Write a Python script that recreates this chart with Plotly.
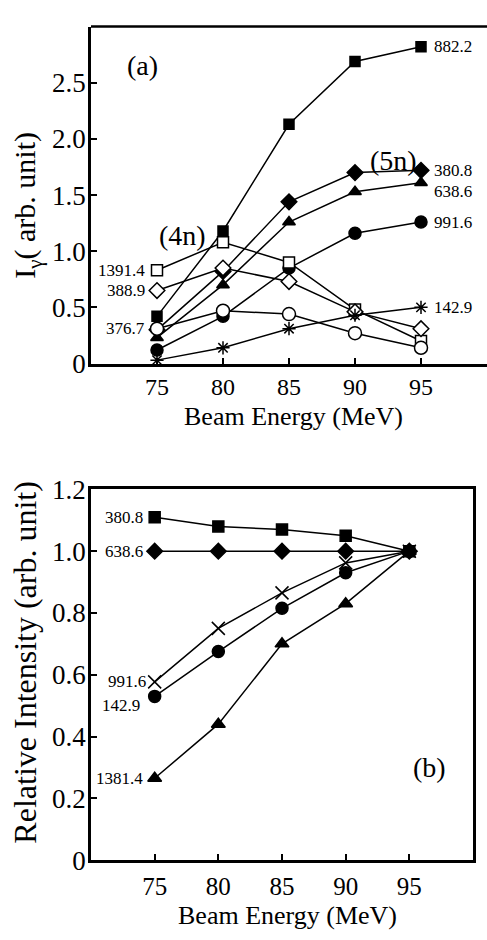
import plotly.graph_objects as go

W, H = 487, 940
FONT = "Liberation Serif, Times New Roman, serif"

energy = [75, 80, 85, 90, 95]

# Panel (a): gamma intensities (arb. unit)
a_names = ["882.2", "380.8", "638.6", "991.6", "1391.4", "388.9", "376.7", "142.9"]
a_882_2 = [0.42, 1.18, 2.13, 2.69, 2.82]
a_380_8 = [0.30, 0.82, 1.44, 1.70, 1.72]
a_638_6 = [0.23, 0.70, 1.26, 1.53, 1.61]
a_991_6 = [0.12, 0.42, 0.85, 1.16, 1.26]
a_1391_4 = [0.83, 1.08, 0.90, 0.48, 0.20]
a_388_9 = [0.65, 0.85, 0.73, 0.46, 0.31]
a_376_7 = [0.31, 0.47, 0.44, 0.27, 0.14]
a_142_9 = [0.03, 0.14, 0.31, 0.43, 0.50]
a_series = [a_882_2, a_380_8, a_638_6, a_991_6, a_1391_4, a_388_9, a_376_7, a_142_9]

# Panel (b): relative intensities
b_names = ["380.8", "638.6", "991.6", "142.9", "1381.4"]
b_380_8 = [1.11, 1.08, 1.07, 1.05, 1.00]
b_638_6 = [1.00, 1.00, 1.00, 1.00, 1.00]
b_991_6 = [0.577, 0.75, 0.865, 0.962, 1.00]
b_142_9 = [0.53, 0.675, 0.815, 0.93, 1.00]
b_1381_4 = [0.265, 0.44, 0.70, 0.83, 1.00]
b_series = [b_380_8, b_638_6, b_991_6, b_142_9, b_1381_4]

a_ticks = [0, 0.5, 1.0, 1.5, 2.0, 2.5]
a_ticktext = ["0", "0.5", "1.0", "1.5", "2.0", "2.5"]
b_ticks = [0, 0.2, 0.4, 0.6, 0.8, 1.0, 1.2]
b_ticktext = ["0", "0.2", "0.4", "0.6", "0.8", "1.0", "1.2"]
x_ticks = [75, 80, 85, 90, 95]

# styles
a_styles = [
    dict(symbol="square", size=10, color="black"),
    dict(symbol="diamond", size=12, color="black"),
    dict(symbol="triangle-up", size=11, color="black"),
    dict(symbol="circle", size=12, color="black"),
    dict(symbol="square", size=11, color="white"),
    dict(symbol="diamond", size=12, color="white"),
    dict(symbol="circle", size=13, color="white"),
    dict(symbol="asterisk-open", size=11, color="black"),
]
b_styles = [
    dict(symbol="square", size=11, color="black"),
    dict(symbol="diamond", size=12, color="black"),
    dict(symbol="x-thin-open", size=13, color="black"),
    dict(symbol="circle", size=12, color="black"),
    dict(symbol="triangle-up", size=12, color="black"),
]

fig = go.Figure()

for name, ys, st in zip(a_names, a_series, a_styles):
    fig.add_trace(go.Scatter(
        x=energy, y=ys, mode="lines+markers", name=name,
        line=dict(color="black", width=1.5),
        marker=dict(symbol=st["symbol"], size=st["size"], color=st["color"],
                    line=dict(color="black", width=1.5)),
        xaxis="x", yaxis="y", showlegend=False, cliponaxis=False))

for name, ys, st in zip(b_names, b_series, b_styles):
    fig.add_trace(go.Scatter(
        x=energy, y=ys, mode="lines+markers", name=name,
        line=dict(color="black", width=1.5),
        marker=dict(symbol=st["symbol"], size=st["size"], color=st["color"],
                    line=dict(color="black", width=1.5)),
        xaxis="x2", yaxis="y2", showlegend=False, cliponaxis=False))

anns = []
lab_font = dict(family=FONT, size=17, color="black")
# panel (a) right-side labels
right_a = [(0, 0), (1, 0), (2, -9), (3, 0), (7, 0)]
for i, ys in right_a:
    anns.append(dict(x=energy[-1], y=a_series[i][-1], xref="x", yref="y",
                     text=a_names[i], showarrow=False, xanchor="left", yanchor="middle",
                     xshift=11, yshift=ys, font=lab_font))
left_a = [(4, 0), (5, 0), (6, 0)]
for i, ys in left_a:
    anns.append(dict(x=energy[0], y=a_series[i][0], xref="x", yref="y",
                     text=a_names[i], showarrow=False, xanchor="right", yanchor="middle",
                     xshift=-10, yshift=ys, font=lab_font))
left_b = [(0, -10, 0), (1, -10, 0), (2, -7, 0), (3, -13, -9), (4, -10, 0)]
for i, xs, ys in left_b:
    anns.append(dict(x=energy[0], y=b_series[i][0], xref="x2", yref="y2",
                     text=b_names[i], showarrow=False, xanchor="right", yanchor="middle",
                     xshift=xs, yshift=ys, font=lab_font))

big = dict(family=FONT, size=28, color="black")
anns += [
    dict(x=73.9, y=2.655, xref="x", yref="y", text="(a)", showarrow=False, font=big,
         xanchor="center", yanchor="middle"),
    dict(x=92.9, y=1.81, xref="x", yref="y", text="(5n)", showarrow=False, font=big,
         xanchor="center", yanchor="middle"),
    dict(x=76.9, y=1.14, xref="x", yref="y", text="(4n)", showarrow=False, font=big,
         xanchor="center", yanchor="middle"),
    dict(x=96.6, y=0.30, xref="x2", yref="y2", text="(b)", showarrow=False, font=big,
         xanchor="center", yanchor="middle"),
]

# axis titles
anns += [
    dict(x=293 / W, y=1 - 415 / H, xref="paper", yref="paper", text="Beam Energy (MeV)",
         showarrow=False, xanchor="center", yanchor="middle",
         font=dict(family=FONT, size=26, color="black")),
    dict(x=287 / W, y=1 - 930 / H, xref="paper", yref="paper", text="Beam Energy (MeV)",
         showarrow=False, xanchor="center", yanchor="middle",
         font=dict(family=FONT, size=26, color="black")),
    dict(x=27 / W, y=1 - 197 / H, xref="paper", yref="paper", text="I<sub>γ</sub>( arb. unit)",
         textangle=-90, showarrow=False, xanchor="center", yanchor="middle",
         font=dict(family=FONT, size=30, color="black")),
    dict(x=25 / W, y=1 - 669 / H, xref="paper", yref="paper", text="Relative Intensity (arb. unit)",
         textangle=-90, showarrow=False, xanchor="center", yanchor="middle",
         font=dict(family=FONT, size=32, color="black")),
]

axis_common = dict(showgrid=False, zeroline=False, linecolor="black", linewidth=2.5,
                   showline=True)

fig.update_layout(
    width=W, height=H,
    margin=dict(l=0, r=0, t=0, b=0),
    paper_bgcolor="white", plot_bgcolor="white",
    font=dict(family=FONT, color="black"),
    showlegend=False,
    annotations=anns,
    xaxis=dict(domain=[91 / W, 1.0], range=[70, 100], tickvals=x_ticks,
               ticks="inside", ticklen=6, tickwidth=1.5, tickcolor="black",
               mirror=False, anchor="y",
               tickfont=dict(family=FONT, size=24, color="black"), **axis_common),
    yaxis=dict(domain=[1 - 360 / H, 1 - 12 / H], range=[0, 3.0], tickvals=a_ticks,
               ticktext=a_ticktext, ticks="inside", ticklen=6, tickwidth=1.5,
               tickcolor="black", anchor="x", ticklabelstandoff=-3,
               tickfont=dict(family=FONT, size=27, color="black"), **axis_common),
    xaxis2=dict(domain=[91 / W, 473 / W], range=[70, 100], tickvals=x_ticks,
                ticks="inside", ticklen=6, tickwidth=1.5, tickcolor="black",
                mirror=True, anchor="y2", ticklabelstandoff=2,
                tickfont=dict(family=FONT, size=25, color="black"), **axis_common),
    yaxis2=dict(domain=[1 - 873 / H, 1 - 490 / H], range=[0, 1.2], tickvals=b_ticks,
                ticktext=b_ticktext, ticks="inside", ticklen=6, tickwidth=1.5,
                tickcolor="black", mirror=True, anchor="x2", ticklabelstandoff=-3,
                tickfont=dict(family=FONT, size=27, color="black"), **axis_common),
)

# top border of panel (a)
fig.add_shape(type="line", xref="paper", yref="paper", x0=91 / W, x1=1.0,
              y0=1 - 12 / H, y1=1 - 12 / H, line=dict(color="black", width=2.5))

fig.write_html("out.html")
